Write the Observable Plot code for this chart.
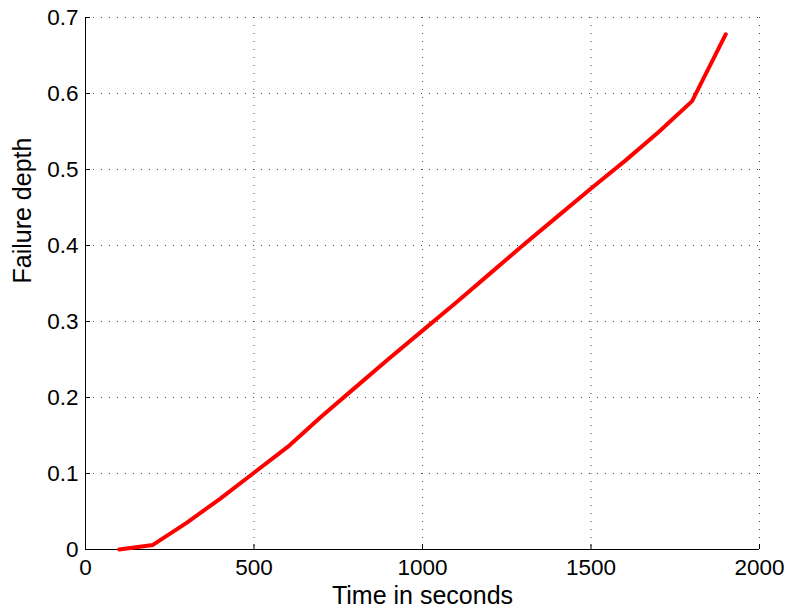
<!DOCTYPE html>
<html>
<head>
<meta charset="utf-8">
<script src="https://cdn.jsdelivr.net/npm/d3@7"></script>
<script src="https://cdn.jsdelivr.net/npm/@observablehq/plot@0.6"></script>
<style>
  html, body { margin: 0; padding: 0; background: #fff; }
  #chart { width: 788px; height: 608px; }
  svg { font-family: "Liberation Sans", Arial, Helvetica, sans-serif; }
</style>
</head>
<body>
<div id="chart"></div>
<script>
// Failure depth over time
const timeSeconds = [100, 200, 300, 400, 500, 600, 700, 800, 900, 1000,
                     1100, 1200, 1300, 1400, 1500, 1600, 1700, 1800, 1900];
const failureDepth = [0, 0.006, 0.035, 0.067, 0.101, 0.135, 0.175, 0.213, 0.251, 0.288,
                      0.325, 0.363, 0.401, 0.438, 0.475, 0.511, 0.549, 0.590, 0.678];
const xTicks = [0, 500, 1000, 1500, 2000];
const yTicks = [0, 0.1, 0.2, 0.3, 0.4, 0.5, 0.6, 0.7];

const data = timeSeconds.map((t, i) => ({t, d: failureDepth[i]}));

const chart = Plot.plot({
  width: 788,
  height: 608,
  marginLeft: 85,
  marginRight: 29,
  marginTop: 17,
  marginBottom: 59,
  style: {fontSize: "22.5px", fontFamily: "'Liberation Sans', Arial, sans-serif", color: "#000", background: "#fff"},
  x: {domain: [0, 2000]},
  y: {domain: [0, 0.7]},
  marks: [
    // dotted grid
    Plot.gridX(xTicks, {stroke: "#000", strokeOpacity: 0.7, strokeDasharray: "1,7", strokeWidth: 1}),
    Plot.gridY(yTicks, {stroke: "#000", strokeOpacity: 0.7, strokeDasharray: "1,7", strokeWidth: 1}),
    // axis lines (left and bottom only)
    Plot.ruleX([0], {stroke: "#000", strokeWidth: 1}),
    Plot.ruleY([0], {stroke: "#000", strokeWidth: 1}),
    // inward tick marks with labels
    Plot.axisX(xTicks, {tickSize: -5, tickPadding: 15, tickFormat: d3.format("d"), label: null, fontSize: 22.5}),
    Plot.axisY(yTicks, {tickSize: -5, tickPadding: 12, tickFormat: d => d === 0 ? "0" : d3.format(".1f")(d), label: null, fontSize: 22.5}),
    // axis titles
    Plot.text(["Time in seconds"], {frameAnchor: "bottom", dy: 54, fontSize: 25, fill: "#000"}),
    Plot.text(["Failure depth"], {frameAnchor: "left", dx: -63, rotate: -90, fontSize: 25, fill: "#000"}),
    // series
    Plot.line(data, {x: "t", y: "d", stroke: "#ff0000", strokeWidth: 4, strokeLinejoin: "round"})
  ]
});
document.getElementById("chart").appendChild(chart);
</script>
</body>
</html>
